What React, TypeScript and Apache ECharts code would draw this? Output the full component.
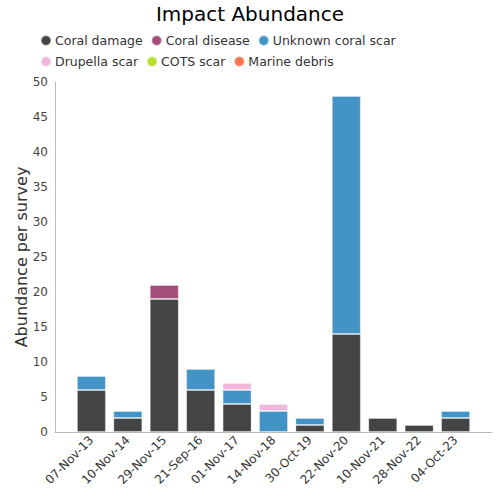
import React, { useEffect, useRef } from "react";
import * as echarts from "echarts";

const categories = ["07-Nov-13", "10-Nov-14", "29-Nov-15", "21-Sep-16", "01-Nov-17", "14-Nov-18", "30-Oct-19", "22-Nov-20", "10-Nov-21", "28-Nov-22", "04-Oct-23"];
const coralDamage = [6, 2, 19, 6, 4, 0, 1, 14, 2, 1, 2];
const coralDisease = [0, 0, 2, 0, 0, 0, 0, 0, 0, 0, 0];
const unknownScar = [2, 1, 0, 3, 2, 3, 1, 34, 0, 0, 1];
const drupellaScar = [0, 0, 0, 0, 1, 1, 0, 0, 0, 0, 0];
const cotsScar = [0, 0, 0, 0, 0, 0, 0, 0, 0, 0, 0];
const marineDebris = [0, 0, 0, 0, 0, 0, 0, 0, 0, 0, 0];

const seriesDefs = [
  { name: "Coral damage", data: coralDamage, color: "#444444" },
  { name: "Coral disease", data: coralDisease, color: "#a44d7a" },
  { name: "Unknown coral scar", data: unknownScar, color: "#4394c6" },
  { name: "Drupella scar", data: drupellaScar, color: "#f1b6da" },
  { name: "COTS scar", data: cotsScar, color: "#b8e02c" },
  { name: "Marine debris", data: marineDebris, color: "#f8734a" },
];

const FONT = "DejaVu Sans";

export default function App() {
  const ref = useRef<HTMLDivElement>(null);
  useEffect(() => {
    if (!ref.current) return;
    const chart = echarts.init(ref.current, null, { renderer: "svg" });
    const paddedCats = ["", ...categories, ""];
    chart.setOption({
      animation: false,
      textStyle: { fontFamily: FONT },
      title: {
        text: "Impact Abundance",
        left: "center",
        top: -1,
        textStyle: { fontFamily: FONT, fontSize: 20, fontWeight: "normal", color: "#000" },
      },
      legend: {
        left: 40,
        top: 34,
        itemWidth: 10,
        itemHeight: 10,
        itemGap: 8,
        icon: "circle",
        padding: [0, 0, 0, 0],
        textStyle: { fontFamily: FONT, fontSize: 12.5, color: "#333", padding: [0, 0, 0, -1], lineHeight: 12 },
        data: [
          "Coral damage", "Coral disease", "Unknown coral scar", "\n",
          "Drupella scar", "COTS scar", "Marine debris",
        ],
      },
      grid: { left: 55, right: 8, top: 82, bottom: 68, containLabel: false },
      xAxis: {
        type: "category",
        data: paddedCats,
        boundaryGap: false,
        axisLine: { lineStyle: { color: "#bbbbbb" } },
        axisTick: { show: false },
        axisLabel: { rotate: 45, interval: 0, fontFamily: FONT, fontSize: 12, color: "#333", margin: 6 },
      },
      yAxis: {
        type: "value",
        min: 0,
        max: 50,
        interval: 5,
        name: "Abundance per survey",
        nameLocation: "middle",
        nameGap: 26,
        nameMoveOverlap: false,
        nameTextStyle: { fontFamily: FONT, fontSize: 16, color: "#333" },
        axisLine: { show: true, lineStyle: { color: "#bbbbbb" } },
        axisTick: { show: false },
        splitLine: { show: false },
        axisLabel: { fontFamily: FONT, fontSize: 12, color: "#444", margin: 7 },
      },
      series: seriesDefs.map((s) => ({
        name: s.name,
        type: "bar",
        stack: "total",
        barWidth: 29,
        data: [null, ...s.data.map((v) => (v === 0 ? null : v)), null],
        itemStyle: { color: s.color, borderColor: "rgba(255,255,255,0.3)", borderWidth: 1 },
      })),
    });
    return () => chart.dispose();
  }, []);
  return <div ref={ref} style={{ position: "absolute", left: 0, top: 0, width: 500, height: 500 }} />;
}
